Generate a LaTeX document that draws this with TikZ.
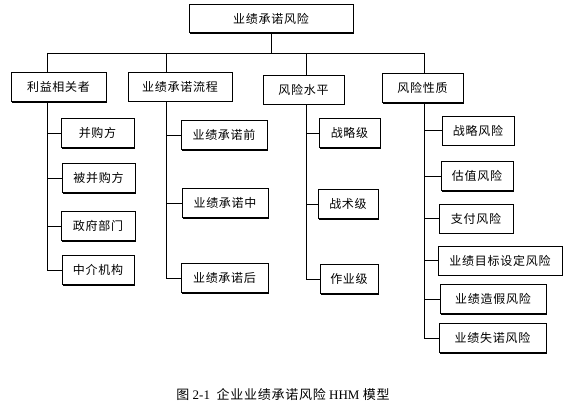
\documentclass[tikz,border=0pt]{standalone}
\usepackage{fontspec}
\setmainfont{Liberation Serif}
\newfontfamily\cjk[LetterSpace=6]{Noto Sans CJK SC}
\usetikzlibrary{shadows}

\tikzset{
  riskbox/.style={draw,fill=white,line width=0.7pt,inner sep=0pt,
    minimum height=29,
    drop shadow={shadow xshift=1.1pt,shadow yshift=-1.1pt,opacity=1,fill=black},
    font=\cjk\fontsize{12}{14}\selectfont},
  link/.style={line width=0.8pt}
}

\begin{document}
\begin{tikzpicture}[x=1pt,y=-1pt]

\useasboundingbox (0,0) rectangle (582,414) ;

% top
\node[riskbox,minimum width=164,minimum height=28] (top) at (271,18.5) {业绩承诺风险} ;

% level one
\node[riskbox,minimum width=95] (sh) at (58.5,87) {利益相关者} ;
\node[riskbox,minimum width=104] (pr) at (180,86.5) {业绩承诺流程} ;
\node[riskbox,minimum width=81] (lv) at (303.5,89.5) {风险水平} ;
\node[riskbox,minimum width=81] (nt) at (422.5,88) {风险性质} ;

\coordinate (h1) at (47,53) ;
\coordinate (h2) at (166,53) ;
\coordinate (h3) at (306,53) ;
\coordinate (h4) at (424,53) ;

\draw[link] (top.south) -- (top.south |- h1) ;
\draw[link] (h1) -- (h4) ;
\draw[link] (h1) -- (h1 |- sh.north) ;
\draw[link] (h2) -- (h2 |- pr.north) ;
\draw[link] (h3) -- (h3 |- lv.north) ;
\draw[link] (h4) -- (h4 |- nt.north) ;

% stakeholders
\node[riskbox,minimum width=73] (c11) at (97.5,133) {并购方} ;
\node[riskbox,minimum width=73] (c12) at (98.5,178) {被并购方} ;
\node[riskbox,minimum width=74] (c13) at (98,226) {政府部门} ;
\node[riskbox,minimum width=72] (c14) at (98,270) {中介机构} ;

\draw[link] (h1 |- sh.south) |- (c14.west) ;
\draw[link] (h1 |- c11) -- (c11.west) ;
\draw[link] (h1 |- c12) -- (c12.west) ;
\draw[link] (h1 |- c13) -- (c13.west) ;

% process
\node[riskbox,minimum width=86] (c21) at (224,135) {业绩承诺前} ;
\node[riskbox,minimum width=86] (c22) at (225,203) {业绩承诺中} ;
\node[riskbox,minimum width=87] (c23) at (224.5,278) {业绩承诺后} ;

\draw[link] (h2 |- pr.south) |- (c23.west) ;
\draw[link] (h2 |- c21) -- (c21.west) ;
\draw[link] (h2 |- c22) -- (c22.west) ;

% level
\node[riskbox,minimum width=61] (c31) at (349.5,133) {战略级} ;
\node[riskbox,minimum width=60] (c32) at (348,204) {战术级} ;
\node[riskbox,minimum width=58] (c33) at (349,279) {作业级} ;

\draw[link] (h3 |- lv.south) |- (c33.west) ;
\draw[link] (h3 |- c31) -- (c31.west) ;
\draw[link] (h3 |- c32) -- (c32.west) ;

% nature
\node[riskbox,minimum width=72] (c41) at (478,130.5) {战略风险} ;
\node[riskbox,minimum width=72] (c42) at (477,176) {估值风险} ;
\node[riskbox,minimum width=74] (c43) at (476,218.5) {支付风险} ;
\node[riskbox,minimum width=124] (c44) at (500,260.5) {业绩目标设定风险} ;
\node[riskbox,minimum width=106] (c45) at (493,299) {业绩造假风险} ;
\node[riskbox,minimum width=107] (c46) at (492.5,338) {业绩失诺风险} ;

\draw[link] (h4 |- nt.south) |- (c46.west) ;
\draw[link] (h4 |- c41) -- (c41.west) ;
\draw[link] (h4 |- c42) -- (c42.west) ;
\draw[link] (h4 |- c43) -- (c43.west) ;
\draw[link] (h4 |- c44) -- (c44.west) ;
\draw[link] (h4 |- c45) -- (c45.west) ;

% caption
\node[font=\fontsize{13}{15}\selectfont] (cap) at (283,395)
  {{\cjk 图} 2-1\ \ {\cjk 企业业绩承诺风险} HHM {\cjk 模型}} ;

\end{tikzpicture}
\end{document}
